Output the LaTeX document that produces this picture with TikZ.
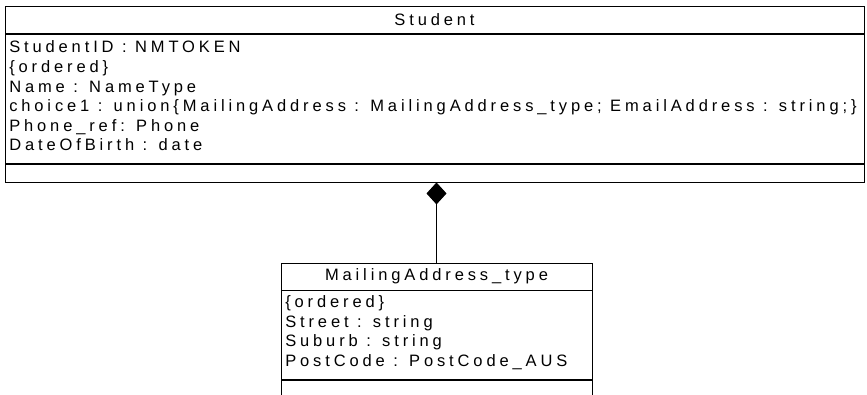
\documentclass[tikz,border=0pt]{standalone}
\usepackage{fontspec}
\setmainfont{Liberation Sans}[LetterSpace=23.5]
\usetikzlibrary{positioning,arrows.meta}

\tikzset{
  umlfont/.style={font=\fontsize{16.5}{19.6}\selectfont},
  classhead/.style={draw, line width=0.9pt, inner sep=0pt, umlfont},
  classpart/.style={draw, line width=0.9pt, inner sep=0pt},
  attrtext/.style={anchor=north west, align=left, inner sep=0pt, umlfont},
  composition/.style={line width=0.9pt, {Diamond[length=22pt,width=20pt]}-}
}

\begin{document}
\begin{tikzpicture}[x=1pt,y=-1pt]
  \useasboundingbox (0,0) rectangle (867,395);

  % Student
  \node[classhead, minimum width=859pt, minimum height=27pt] (student) at (434.5,19.7) {Student};
  \node[classpart, minimum width=859pt, minimum height=129pt, below=0pt of student] (student attrs) {};
  \node[classpart, minimum width=859pt, minimum height=18pt, below=0pt of student attrs] (student ops) {};
  \node[attrtext] (student list) at ([xshift=4.5pt,yshift=-7pt]student attrs.north west)
    {StudentID : NMTOKEN\\
     \{ordered\}\\
     Name : NameType\\
     choice1 : union\{MailingAddress : MailingAddress\_type; EmailAddress : string;\}\\
     Phone\_ref: Phone\\
     DateOfBirth : date};

  % MailingAddress_type
  \node[classhead, minimum width=311pt, minimum height=27pt] (mailing) at (436.5,276.5) {MailingAddress\_type};
  \node[classpart, minimum width=311pt, minimum height=89pt, below=0pt of mailing] (mailing attrs) {};
  \node[classpart, minimum width=311pt, minimum height=18pt, below=0pt of mailing attrs] (mailing ops) {};
  \node[attrtext] (mailing list) at ([xshift=4.5pt,yshift=-5pt]mailing attrs.north west)
    {\{ordered\}\\
     Street : string\\
     Suburb : string\\
     PostCode : PostCode\_AUS};

  \draw[composition] (student ops.south -| mailing.north) -- (mailing.north);
\end{tikzpicture}
\end{document}
